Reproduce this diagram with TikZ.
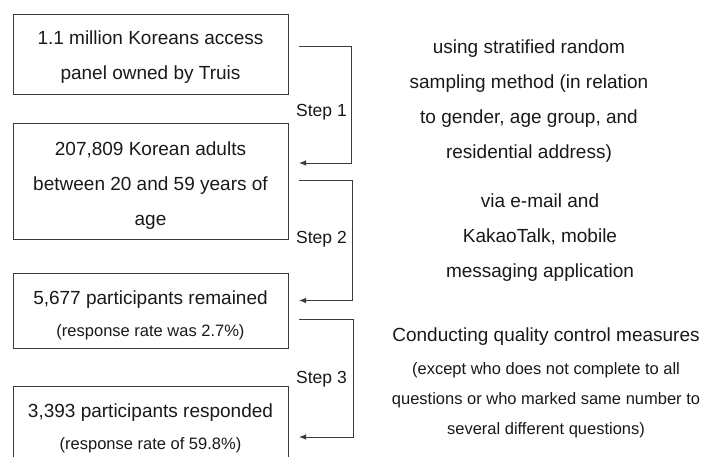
\documentclass[tikz,border=0pt]{standalone}
\usepackage{fontspec}
\setmainfont{Liberation Sans}
\usetikzlibrary{arrows.meta}
\definecolor{linec}{HTML}{3A3A3A}
\newcommand\tstrut[1]{\rule{0pt}{#1}}
\tikzset{
  box/.style={draw=linec, line width=0.9pt, minimum width=275pt, inner sep=0pt, align=center, text=black!90,
    font=\fontsize{19}{35}\selectfont},
  conn/.style={draw=linec, line width=0.9pt, -{Latex[length=7pt,width=5.5pt]}},
  steplab/.style={font=\fontsize{17.5}{21}\selectfont, text=black!90, inner sep=0pt},
  side/.style={align=center, inner sep=0pt, text=black!90, font=\fontsize{19}{35}\selectfont},
  smallfont/.style={font=\fontsize{16.5}{30}\selectfont}
}
\begin{document}
\begin{tikzpicture}[x=1pt,y=-1pt]
\useasboundingbox (0,0) rectangle (703,456);
\clip (0,0) rectangle (703,456);
% boxes
\node[box, minimum height=80pt] (b1) at (150.5,54) {\tstrut{20pt}1.1 million Koreans access\\panel owned by Truis};
\node[box, minimum height=116pt] (b2) at (150.5,181) {\tstrut{22pt}207,809 Korean adults\\between 20 and 59 years of\\age};
\node[box, minimum height=75pt] (b3) at (150.5,310.5) {\tstrut{23pt}5,677 participants remained\\[-3pt]{\fontsize{16.5}{30}\selectfont (response rate was 2.7\%)}};
\node[box, minimum height=84pt] (b4) at (150.5,428) {3,393 participants responded\\[-3pt]{\fontsize{16.5}{30}\selectfont (response rate of 59.8\%)}};
% connector end points
\coordinate (s1) at (299,46);
\coordinate (e1) at (299,163);
\coordinate (s2) at (299,180);
\coordinate (e2) at (299,300.5);
\coordinate (s3) at (299,319);
\coordinate (e3) at (299,437);
\draw[conn] (s1) -- ++(52,0) |- (e1);
\draw[conn] (s2) -- ++(53,0) |- (e2);
\draw[conn] (s3) -- ++(54,0) |- (e3);
% step labels
\node[steplab] (l1) at (321.5,112.5) {Step 1};
\node[steplab] (l2) at (321.5,239.5) {Step 2};
\node[steplab] (l3) at (321.5,379.5) {Step 3};
% side texts
\node[side] (t1) at (529,101) {using stratified random\\sampling method (in relation\\to gender, age group, and\\residential address)};
\node[side] (t2) at (540,237.5) {via e-mail and\\KakaoTalk, mobile\\messaging application};
\node[side, smallfont] (t3) at (546,383) {{\fontsize{19}{23}\selectfont Conducting quality control measures}\\[3pt](except who does not complete to all\\questions or who marked same number to\\several different questions)};
\end{tikzpicture}
\end{document}
